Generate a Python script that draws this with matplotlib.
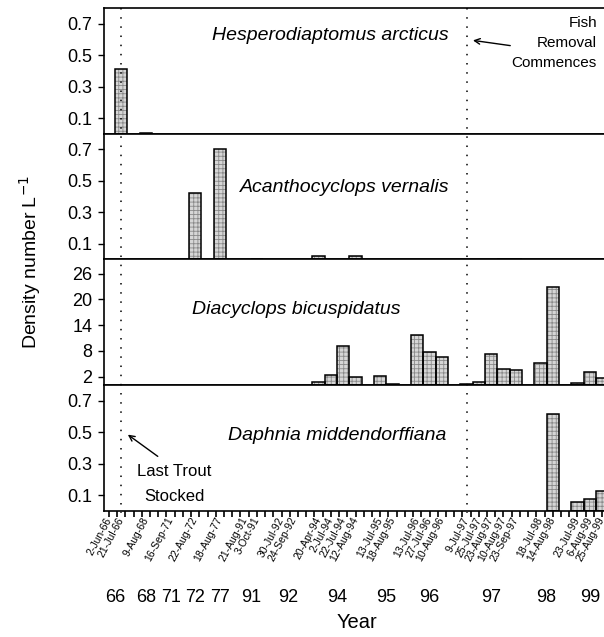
import matplotlib
matplotlib.use("Agg")
import matplotlib.pyplot as plt
from matplotlib.ticker import MultipleLocator
from matplotlib.transforms import blended_transform_factory
from matplotlib.lines import Line2D
import numpy as np

plt.rcParams['font.family'] = ['Liberation Sans', 'DejaVu Sans']
plt.rcParams['hatch.linewidth'] = 0.6

# Sampling dates (x categories)
dates = ["2-Jun-66", "21-Jul-66", "9-Aug-68", "16-Sep-71", "22-Aug-72", "18-Aug-77",
         "21-Aug-91", "3-Oct-91", "30-Jul-92", "24-Sep-92",
         "20-Apr-94", "2-Jul-94", "22-Jul-94", "12-Aug-94",
         "13-Jul-95", "18-Aug-95",
         "13-Jul-96", "27-Jul-96", "10-Aug-96",
         "9-Jul-97", "25-Jul-97", "23-Aug-97", "10-Aug-97", "23-Sep-97",
         "18-Jul-98", "14-Aug-98",
         "23-Jul-99", "6-Aug-99", "25-Aug-99"]

# Densities (number per litre) for each date
hesperodiaptomus = [0, 0.41, 0.006, 0, 0, 0, 0, 0, 0, 0,
                    0, 0, 0, 0, 0, 0, 0, 0, 0, 0, 0, 0, 0, 0, 0, 0, 0, 0, 0]
acanthocyclops = [0, 0, 0, 0, 0.42, 0.70, 0, 0.004, 0, 0,
                  0.022, 0, 0, 0.022, 0, 0, 0, 0, 0,
                  0, 0, 0, 0.004, 0.004, 0, 0, 0, 0, 0]
diacyclops = [0, 0, 0, 0, 0, 0, 0, 0, 0, 0,
              0.8, 2.5, 9.1, 2.0, 2.2, 0.2, 11.7, 7.8, 6.6,
              0.4, 0.7, 7.2, 3.9, 3.6, 5.3, 22.9, 0.5, 3.1, 1.6]
daphnia = [0, 0, 0, 0, 0, 0, 0, 0, 0, 0,
           0, 0, 0, 0, 0, 0, 0, 0, 0,
           0, 0, 0, 0, 0, 0, 0.62, 0.055, 0.076, 0.13]

species = ["Hesperodiaptomus arcticus", "Acanthocyclops vernalis",
           "Diacyclops bicuspidatus", "Daphnia middendorffiana"]
series = [hesperodiaptomus, acanthocyclops, diacyclops, daphnia]
yticks = [[0.1, 0.3, 0.5, 0.7], [0.1, 0.3, 0.5, 0.7],
          [2, 8, 14, 20, 26], [0.1, 0.3, 0.5, 0.7]]
ylims = [(0, 0.8), (0, 0.8), (0, 29.3), (0, 0.8)]
trout_date = "21-Jul-66"
removal_date = "9-Jul-97"

# positions: consecutive slots, one empty slot between years
years = [d.split("-")[-1] for d in dates]
pos = []
p = 0
for i, y in enumerate(years):
    if i > 0 and y != years[i - 1]:
        p += 1
    pos.append(p)
    p += 1
pos = np.array(pos, dtype=float)

W, H = 604, 637
fig = plt.figure(figsize=(W / 100, H / 100), dpi=100)

def fx(px):
    return px / W

def fy(py):
    return 1 - py / H

left_px, right_px = 104, 608.3
top_px, bot_px = 8, 511
ph = (bot_px - top_px) / 4
axes = []
for k in range(4):
    t = top_px + k * ph
    ax = fig.add_axes([fx(left_px), fy(t + ph), fx(right_px - left_px), ph / H])
    axes.append(ax)

for k, ax in enumerate(axes):
    vals = np.array(series[k], dtype=float)
    m = vals > 0
    ax.bar(pos[m], vals[m], width=1.0, facecolor='#d6d6d6', edgecolor='#8a8a8a',
           hatch='++++', linewidth=0, zorder=2)
    ax.bar(pos[m], vals[m], width=1.0, fill=False, edgecolor='black',
           linewidth=1.1, zorder=3)
    ax.set_xlim(-0.4, pos[-1] + 0.5)
    ax.set_ylim(*ylims[k])
    ax.set_yticks(yticks[k])
    ax.set_yticklabels([f"{v:g}" for v in yticks[k]], fontsize=13)
    ax.tick_params(axis='y', direction='out', length=4.5, width=1, pad=4)
    for s in ax.spines.values():
        s.set_linewidth(1.2)
    if k < 3:
        ax.tick_params(axis='x', bottom=False, labelbottom=False)

# species names
name_pos = [(330, 35), (345, 187), (296, 309), (337, 435)]
for ax, name, (x, y) in zip(axes, species, name_pos):
    fig.text(fx(x), fy(y), name, fontsize=14, style='italic', ha='center', va='center')

# bottom axis: ticks and date labels
ax4 = axes[3]
ax4.xaxis.remove_overlapping_locs = False
ax4.xaxis.set_major_locator(MultipleLocator(2 / 3))
ax4.tick_params(axis='x', which='major', direction='out', length=4, width=1.2,
                labelbottom=False)
ax4.set_xticks(pos, minor=True)
ax4.set_xticklabels(dates, minor=True, rotation=62, fontsize=7.5,
                    ha='right', va='center', rotation_mode='anchor')
ax4.tick_params(axis='x', which='minor', length=0, pad=5)

# year labels under each group
bt = blended_transform_factory(ax4.transData, fig.transFigure)
uyears = []
for y in years:
    if y not in uyears:
        uyears.append(y)
for y in uyears:
    xs = pos[[i for i, yy in enumerate(years) if yy == y]]
    ax4.text(xs.mean(), fy(597), y, transform=bt, fontsize=13, ha='center',
             va='center')

fig.text(fx(357), fy(622), "Year", fontsize=14.5, ha='center', va='center')
fig.text(fx(30), fy(262), "Density number L$^{-1}$", fontsize=14, rotation=90,
         ha='center', va='center')

# dotted reference lines through all panels
for d in (trout_date, removal_date):
    xv = pos[dates.index(d)]
    ln = Line2D([xv, xv], [fy(top_px), fy(bot_px + 2)], transform=bt, color='black',
                linewidth=1.1, linestyle=(0, (1, 5)))
    fig.add_artist(ln)

# annotations
fig.text(fx(597), fy(43), "Fish\nRemoval\nCommences", fontsize=11, ha='right',
         va='center', linespacing=1.55)
xr = pos[dates.index(removal_date)]
ax1 = axes[0]
bt1 = blended_transform_factory(ax1.transData, fig.transFigure)
ax1.annotate("", xy=(xr + 0.3, fy(40)), xycoords=bt1,
             xytext=(fx(513), fy(46)), textcoords='figure fraction',
             arrowprops=dict(arrowstyle='->', lw=1, color='black'),
             annotation_clip=False)

fig.text(fx(174), fy(484), "Last Trout\nStocked", fontsize=12, ha='center',
         va='center', linespacing=1.8)
xt = pos[dates.index(trout_date)]
ax4.annotate("", xy=(xt + 0.35, fy(433)), xycoords=bt,
             xytext=(fx(160), fy(458)), textcoords='figure fraction',
             arrowprops=dict(arrowstyle='->', lw=1, color='black'),
             annotation_clip=False)

fig.savefig("out.png", dpi=100)
